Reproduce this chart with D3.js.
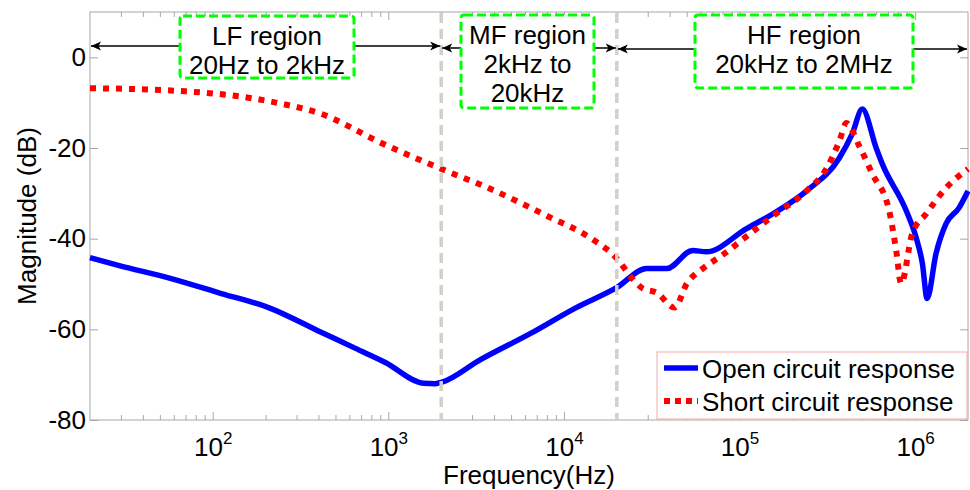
<!DOCTYPE html>
<html>
<head>
<meta charset="utf-8">
<script src="https://cdn.jsdelivr.net/npm/d3@7"></script>
<style>
  body { margin: 0; background: #fff; }
  svg { font-family: "Liberation Sans", Arial, sans-serif; }
</style>
</head>
<body>
<svg id="chart" width="970" height="490"></svg>
<script>
// Data (frequency in Hz, magnitude in dB)
const freqOpen = [20, 29, 58, 112, 208, 417, 650, 962, 1585, 1850, 2040, 3310, 6460, 11750, 19950,
  29500, 38500, 54100, 64600, 109600, 155000, 240000, 370000, 438000, 500000, 600000, 650000,
  889000, 1014000, 1100000, 1170000, 1315000, 1500000, 1778000, 2000000];
const magOpen = [-44.2, -45.9, -48.8, -52.1, -55.2, -60.7, -64.2, -67.3, -71.9, -72.0, -71.6, -66.8, -60.9, -55.2, -50.8,
  -46.6, -46.6, -42.6, -42.9, -37.8, -34.5, -29.5, -22.2, -16.9, -11.4, -20.0, -23.5,
  -33.8, -39.8, -45.5, -53.2, -43.3, -36.7, -33.2, -29.5];

const freqShort = [20, 70, 141, 237, 417, 912, 2000, 3800, 7940, 14600, 19950, 24500, 28100,
  33700, 42700, 50100, 61700, 79400, 109600, 155000, 240000, 312000, 370000, 406000, 481000,
  570000, 711000, 780000, 832000, 962000, 1156000, 1500000, 2000000];
const magShort = [-6.8, -7.5, -8.6, -10.1, -12.5, -18.9, -24.6, -29.0, -34.9, -40.2, -44.3, -48.8, -51.0,
  -51.9, -55.2, -49.9, -46.6, -43.7, -39.5, -35.0, -29.5, -24.6, -18.5, -14.5, -19.6,
  -25.7, -33.8, -42.6, -49.9, -38.9, -34.5, -28.8, -24.6];

const xDomain = [20, 2e6];
const yDomain = [-80, 10];
const xMajorTicks = [1e2, 1e3, 1e4, 1e5, 1e6];
const yTicks = [-80, -60, -40, -20, 0];
const regionEdges = [20, 2000, 20000, 2e6];
const regionLabels = [["LF region", "20Hz to 2kHz"], ["MF region", "2kHz to", "20kHz"], ["HF region", "20kHz to 2MHz"]];
const legendLabels = ["Open circuit response", "Short circuit response"];

const plotLeft = 90, plotRight = 968, plotTop = 12, plotBottom = 420;
const axisColor = "#a8a8a8";
const fontSize = 26;

const svg = d3.select("#chart");

const x = d3.scaleLog().domain(xDomain).range([plotLeft, plotRight]);
const y = d3.scaleLinear().domain(yDomain).range([plotBottom, plotTop]);

// minor ticks 2..9 in each decade
var xMinorTicks = [];
for (let e = 1; e <= 6; e++) {
  for (let m = 2; m <= 9; m++) {
    const v = m * Math.pow(10, e);
    if (v > xDomain[0] && v < xDomain[1]) xMinorTicks.push(v);
  }
}

function styleAxis(g) {
  g.select(".domain").remove();
  g.selectAll(".tick line").attr("stroke", axisColor);
}

// box
svg.append("rect")
  .attr("x", plotLeft).attr("y", plotTop)
  .attr("width", plotRight - plotLeft).attr("height", plotBottom - plotTop)
  .attr("fill", "none").attr("stroke", axisColor);

// bottom / top ticks (inward)
svg.append("g").attr("transform", `translate(0,${plotBottom})`)
  .call(d3.axisBottom(x).tickValues(xMinorTicks).tickSize(-5).tickFormat(""))
  .call(styleAxis);
svg.append("g").attr("transform", `translate(0,${plotTop})`)
  .call(d3.axisTop(x).tickValues(xMinorTicks).tickSize(-5).tickFormat(""))
  .call(styleAxis);
svg.append("g").attr("transform", `translate(0,${plotTop})`)
  .call(d3.axisTop(x).tickValues(xMajorTicks).tickSize(-8).tickFormat(""))
  .call(styleAxis);
const xAxis = svg.append("g").attr("transform", `translate(0,${plotBottom})`)
  .call(d3.axisBottom(x).tickValues(xMajorTicks).tickSize(-8))
  .call(styleAxis);
xAxis.selectAll(".tick text")
  .attr("font-size", fontSize).attr("fill", "#000")
  .attr("y", 0).attr("dy", 0)
  .attr("transform", "translate(0,36)")
  .each(function (d) {
    const t = d3.select(this);
    t.text("10");
    t.append("tspan").attr("dy", "-0.72em").attr("font-size", 17).text(Math.round(Math.log10(d)));
  });

// left / right ticks
const yAxis = svg.append("g").attr("transform", `translate(${plotLeft},0)`)
  .call(d3.axisLeft(y).tickValues(yTicks).tickSize(-8).tickPadding(4).tickFormat(d => String(d)))
  .call(styleAxis);
yAxis.selectAll(".tick text")
  .attr("font-size", fontSize).attr("fill", "#000");
svg.append("g").attr("transform", `translate(${plotRight},0)`)
  .call(d3.axisRight(y).tickValues(yTicks).tickSize(-8).tickFormat(""))
  .call(styleAxis);
svg.selectAll(".tick text").attr("font-family", "Liberation Sans, Arial, sans-serif");

// axis titles
svg.append("text")
  .attr("x", (plotLeft + plotRight) / 2).attr("y", 484)
  .attr("text-anchor", "middle").attr("font-size", fontSize)
  .text("Frequency(Hz)");
svg.append("text")
  .attr("transform", `translate(36,${(plotTop + plotBottom) / 2}) rotate(-90)`)
  .attr("text-anchor", "middle").attr("font-size", fontSize)
  .text("Magnitude (dB)");

// curves
const line = d3.line()
  .x(d => x(d[0]))
  .y(d => y(d[1]))
  .curve(d3.curveMonotoneX);

const openData = d3.zip(freqOpen, magOpen);
const shortData = d3.zip(freqShort, magShort);

svg.append("path").datum(openData)
  .attr("d", line)
  .attr("fill", "none").attr("stroke", "#0000ff")
  .attr("stroke-width", 5.5).attr("stroke-linejoin", "round");
svg.append("path").datum(shortData)
  .attr("d", line)
  .attr("fill", "none").attr("stroke", "#ff0000")
  .attr("stroke-width", 6).attr("stroke-dasharray", "6,7");

// region boundaries
svg.selectAll(".boundary")
  .data(regionEdges.slice(1, 3))
  .enter()
  .append("line")
  .attr("class", "boundary")
  .attr("x1", d => x(d)).attr("x2", d => x(d))
  .attr("y1", plotTop + 1).attr("y2", plotBottom)
  .attr("stroke", "#d5cfc7").attr("stroke-width", 3.5)
  .attr("stroke-dasharray", "10,6");

// arrow marker
const defs = svg.append("defs");
defs.append("marker")
  .attr("id", "head")
  .attr("markerUnits", "userSpaceOnUse")
  .attr("viewBox", "0 -5 10 10")
  .attr("refX", 10).attr("refY", 0)
  .attr("markerWidth", 11).attr("markerHeight", 10)
  .attr("orient", "auto")
  .append("path")
  .attr("d", "M0,-4.5L10,0L0,4.5L2.5,0Z")
  .attr("fill", "#000");

// region annotation boxes
const boxes = [
  { x0: 180, x1: 354, y0: 16, y1: 78, ay: 46 },
  { x0: 461, x1: 594, y0: 15, y1: 108, ay: 48 },
  { x0: 695, x1: 913, y0: 15, y1: 88, ay: 49 }
];

boxes.forEach((b, i) => {
  const xs = x(regionEdges[i]) + 1;
  const xe = x(regionEdges[i + 1]) - 1;
  svg.append("line")
    .attr("x1", b.x0).attr("y1", b.ay).attr("x2", xs).attr("y2", b.ay)
    .attr("stroke", "#000").attr("stroke-width", 1.5)
    .attr("marker-end", "url(#head)");
  svg.append("line")
    .attr("x1", b.x1).attr("y1", b.ay).attr("x2", xe).attr("y2", b.ay)
    .attr("stroke", "#000").attr("stroke-width", 1.5)
    .attr("marker-end", "url(#head)");

  svg.append("rect")
    .attr("x", b.x0).attr("y", b.y0)
    .attr("width", b.x1 - b.x0).attr("height", b.y1 - b.y0)
    .attr("rx", 3)
    .attr("fill", "#fff").attr("stroke", "#00ff00")
    .attr("stroke-width", 3).attr("stroke-dasharray", "9,4");

  svg.append("g").selectAll("text")
    .data(regionLabels[i])
    .enter()
    .append("text")
    .attr("x", (b.x0 + b.x1) / 2)
    .attr("y", (d, j) => b.y0 + 29 + j * 29)
    .attr("text-anchor", "middle")
    .attr("font-size", fontSize)
    .text(d => d);
});

// legend
const legend = svg.append("g");
legend.append("rect")
  .attr("x", 657).attr("y", 352)
  .attr("width", 310).attr("height", 67)
  .attr("fill", "#fff").attr("stroke", "#f2a9a9");
const legendStyles = [
  { color: "#0000ff", dash: null, width: 5.5 },
  { color: "#ff0000", dash: "6,5", width: 6 }
];
legendLabels.forEach((label, i) => {
  const ly = 368 + i * 33;
  legend.append("line")
    .attr("x1", 664).attr("x2", 698)
    .attr("y1", ly).attr("y2", ly)
    .attr("stroke", legendStyles[i].color)
    .attr("stroke-width", legendStyles[i].width)
    .attr("stroke-dasharray", legendStyles[i].dash);
  legend.append("text")
    .attr("x", 702).attr("y", ly + 10)
    .attr("font-size", fontSize)
    .text(label);
});
</script>
</body>
</html>
